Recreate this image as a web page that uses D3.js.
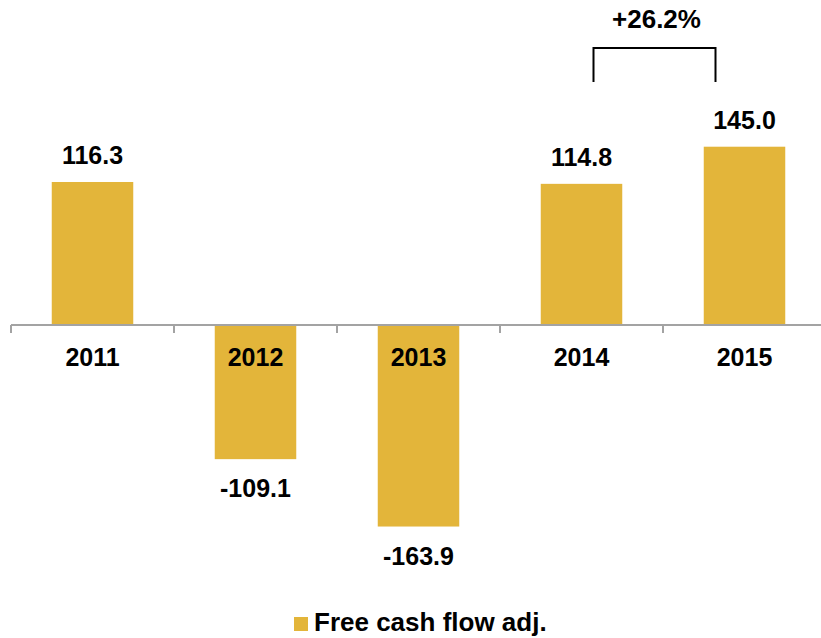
<!DOCTYPE html>
<html>
<head>
<meta charset="utf-8">
<script src="https://cdn.jsdelivr.net/npm/d3@7"></script>
<style>
  html, body { margin: 0; padding: 0; background: #fff; }
  svg { display: block; }
  text { font-family: "Liberation Sans", Arial, sans-serif; font-weight: bold; fill: #000; }
</style>
</head>
<body>
<svg id="chart" width="821" height="638"></svg>
<script>
const categories = ["2011", "2012", "2013", "2014", "2015"];
const values = [116.3, -109.1, -163.9, 114.8, 145.0];
const valueLabels = ["116.3", "-109.1", "-163.9", "114.8", "145.0"];
const seriesName = "Free cash flow adj.";
const growthLabel = "+26.2%";
const growthFrom = "2014";
const growthTo = "2015";

const barColor = "#E3B53A";
const svg = d3.select("#chart");

const x = d3.scaleBand()
  .domain(categories)
  .range([11, 826])
  .paddingInner(0.5)
  .paddingOuter(0.25);

const y = d3.scaleLinear()
  .domain([-200, 200])
  .range([325 + 200 * 1.2296, 325 - 200 * 1.2296]);

const zeroY = y(0);
const step = x.step();
const gap = step - x.bandwidth();

// bars
svg.append("g").selectAll("rect")
  .data(categories)
  .join("rect")
  .attr("x", (d) => x(d))
  .attr("width", x.bandwidth())
  .attr("y", (d, i) => Math.min(y(values[i]), zeroY))
  .attr("height", (d, i) => Math.abs(y(values[i]) - zeroY))
  .attr("fill", barColor);

// axis line and ticks
const axisG = svg.append("g").attr("stroke", "#a3a3a3").attr("stroke-width", 2);
axisG.append("line")
  .attr("x1", x.range()[0]).attr("x2", x.range()[1])
  .attr("y1", zeroY).attr("y2", zeroY);
const boundaries = categories.map((d) => x(d) - gap / 2).concat([x(categories[categories.length - 1]) + x.bandwidth() + gap / 2]);
axisG.selectAll("line.tick")
  .data(boundaries)
  .join("line")
  .attr("class", "tick")
  .attr("x1", (d) => d).attr("x2", (d) => d)
  .attr("y1", zeroY).attr("y2", zeroY + 8);

// category labels
svg.append("g").selectAll("text")
  .data(categories)
  .join("text")
  .attr("x", (d) => x(d) + x.bandwidth() / 2)
  .attr("y", zeroY + 41)
  .attr("text-anchor", "middle")
  .style("font-size", "25px")
  .text((d) => d);

// value labels
svg.append("g").selectAll("text")
  .data(categories)
  .join("text")
  .attr("x", (d) => x(d) + x.bandwidth() / 2)
  .attr("y", (d, i) => values[i] >= 0 ? y(values[i]) - 18 : y(values[i]) + 38)
  .attr("text-anchor", "middle")
  .style("font-size", "25px")
  .text((d, i) => valueLabels[i]);

// growth bracket
const bxA = x(growthFrom) + x.bandwidth() / 2 + 12;
const bxB = x(growthTo) + x.bandwidth() / 2 - 29;
const bracket = svg.append("g");
bracket.append("path")
  .attr("d", `M${bxA},82 V48 H${bxB} V82`)
  .attr("fill", "none")
  .attr("stroke", "#000")
  .attr("stroke-width", 2);
bracket.append("text")
  .attr("x", (bxA + bxB) / 2 + 2)
  .attr("y", 28)
  .attr("text-anchor", "middle")
  .style("font-size", "26px")
  .text(growthLabel);

// legend
const legend = svg.append("g");
legend.append("rect")
  .attr("x", 294).attr("y", 617)
  .attr("width", 14).attr("height", 14)
  .attr("fill", barColor);
legend.append("text")
  .attr("x", 314)
  .attr("y", 631)
  .style("font-size", "26px")
  .text(seriesName);
</script>
</body>
</html>
